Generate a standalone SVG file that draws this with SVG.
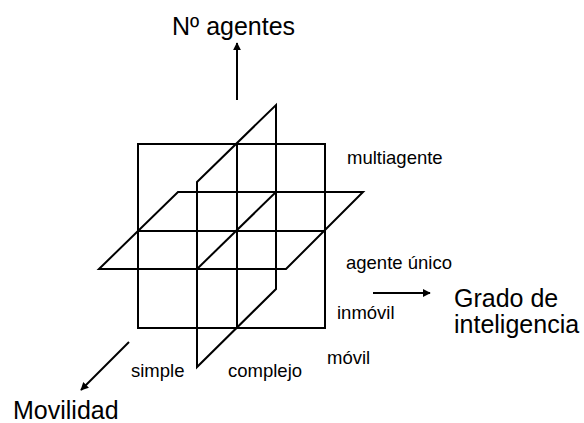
<svg xmlns="http://www.w3.org/2000/svg" width="584" height="423" viewBox="0 0 584 423">
<style>
.ln{fill:none;stroke:#000;stroke-width:2;stroke-linejoin:miter}
.big{font-family:"Liberation Sans",Arial,sans-serif;font-size:25px;fill:#000}
.sm{font-family:"Liberation Sans",Arial,sans-serif;font-size:18.5px;fill:#000}
</style>
<defs>
<marker id="ah" viewBox="0 0 10 10" refX="9" refY="5" markerWidth="4" markerHeight="4" orient="auto" markerUnits="strokeWidth">
<path d="M0,0 L10,5 L0,10 z" fill="#000"/>
</marker>
</defs>
<rect width="584" height="423" fill="#fff"/>
<g id="front-plane">
<rect class="ln" x="138" y="144" width="187" height="184"/>
<line class="ln" x1="237" y1="144" x2="237" y2="328"/>
<line class="ln" x1="138" y1="231" x2="325" y2="231"/>
</g>
<g id="vertical-plane">
<polygon class="ln" points="197,182 276,105 276,289 197,367"/>
</g>
<g id="horizontal-plane">
<polygon class="ln" points="99,269 178,192 363,192 286,269"/>
<line class="ln" x1="197" y1="269" x2="276" y2="192"/>
</g>
<g id="connectors">
<line class="ln" x1="237" y1="100" x2="237" y2="43" marker-end="url(#ah)"/>
<line class="ln" x1="129" y1="342" x2="81" y2="390" marker-end="url(#ah)"/>
<line class="ln" x1="373" y1="293" x2="430" y2="293" marker-end="url(#ah)"/>
</g>
<g id="labels">
<text class="big" x="172" y="35">Nº agentes</text>
<text class="big" x="454" y="307">Grado de</text>
<text class="big" x="454" y="333">inteligencia</text>
<text class="big" x="13" y="419">Movilidad</text>
<text class="sm" x="347" y="164">multiagente</text>
<text class="sm" x="346" y="269">agente único</text>
<text class="sm" x="337" y="319">inmóvil</text>
<text class="sm" x="327" y="364">móvil</text>
<text class="sm" x="131" y="377">simple</text>
<text class="sm" x="228" y="377">complejo</text>
</g>
</svg>
